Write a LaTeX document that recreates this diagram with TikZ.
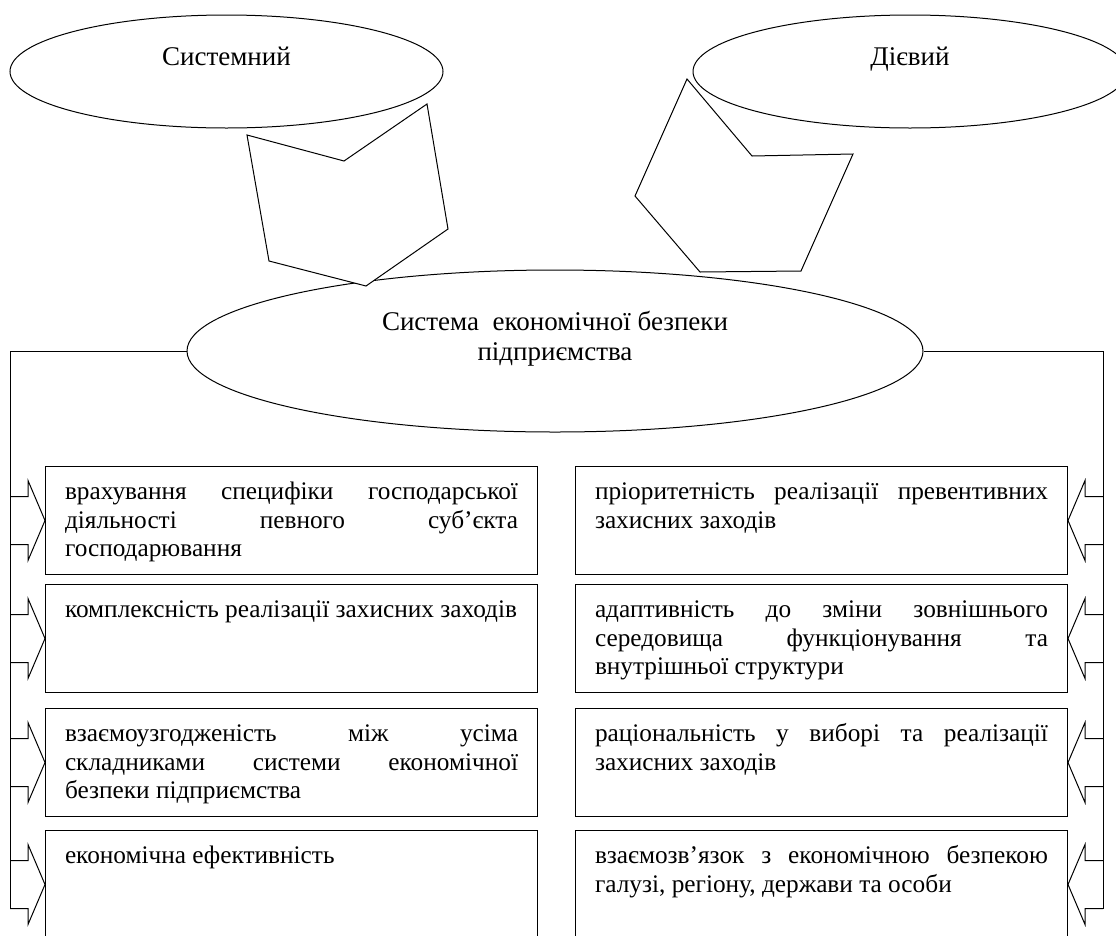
\documentclass[tikz,border=0pt]{standalone}
\usepackage{fontspec}
\setmainfont{Liberation Serif}
\usetikzlibrary{shapes.geometric}
\tolerance=10000
\hyphenpenalty=10000

\begin{document}
\begin{tikzpicture}[x=1pt,y=-1pt]

\tikzset{oval/.style = {shape=ellipse,draw,line width=1pt,align=center,font=\fontsize{27}{30}\selectfont}}
\tikzset{box/.style = {shape=rectangle,draw,line width=1pt,anchor=north west,text width=453pt,inner xsep=19.5pt,inner ysep=14pt,text height=19pt,text depth=61pt,align=justify,font=\fontsize{25.3}{28.5}\selectfont}}
\tikzset{link/.style = {line width=1pt}}
\tikzset{block/.style = {draw,fill=white,line width=1pt,line join=miter}}

\useasboundingbox (0,0) rectangle (1116,935);
\clip (0,0) rectangle (1116,935);

%ovals
\node[oval, minimum width=433pt, minimum height=113pt] (sys) at (226.5,71.5) {Системний\\\mbox{}};
\node[oval, minimum width=434pt, minimum height=113pt] (act) at (910,71.5) {Дієвий\\\mbox{}};
\node[oval, minimum width=736pt, minimum height=162pt] (core) at (555,351) {Система~~економічної безпеки\\підприємства\\\mbox{}};

%left boxes
\node[box] (l1) at (45,466) {врахування специфіки господарської\linebreak діяльності певного суб’єкта\linebreak господарювання};
\node[box] (l2) at (45,584) {комплексність реалізації захисних заходів};
\node[box] (l3) at (45,708) {взаємоузгодженість між усіма\linebreak складниками системи економічної\linebreak безпеки підприємства};
\node[box] (l4) at (45,830) {економічна ефективність};

%right boxes
\node[box] (r1) at (575,466) {пріоритетність реалізації превентивних\linebreak захисних заходів};
\node[box] (r2) at (575,584) {адаптивність до зміни зовнішнього\linebreak середовища функціонування та\linebreak внутрішньої структури};
\node[box] (r3) at (575,708) {раціональність у виборі та реалізації\linebreak захисних заходів};
\node[box] (r4) at (575,830) {взаємозв’язок з економічною безпекою\linebreak галузі, регіону, держави та особи};

%lines
\draw[link] (core.west) -| ([shift={(-35,24)}]l4.west);
\draw[link] (core.east) -| ([shift={(35,24)}]r4.east);
\foreach \b in {l1,l2,l3,l4}
  \draw[link] ([shift={(-35,-24)}]\b.west) -- ([shift={(-17,-24)}]\b.west) -- ([shift={(-17,-40)}]\b.west)
    -- (\b.west) -- ([shift={(-17,40)}]\b.west) -- ([shift={(-17,24)}]\b.west) -- ([shift={(-35,24)}]\b.west);
\foreach \b in {r1,r2,r3,r4}
  \draw[link] ([shift={(35,-24)}]\b.east) -- ([shift={(17,-24)}]\b.east) -- ([shift={(17,-40)}]\b.east)
    -- (\b.east) -- ([shift={(17,40)}]\b.east) -- ([shift={(17,24)}]\b.east) -- ([shift={(35,24)}]\b.east);

%block arrows
\draw[block] (247,135) -- (344,161) -- (427,104) -- (448,229) -- (366,286) -- (269,261) -- cycle;
\draw[block] (687,79) -- (752,156) -- (853,154) -- (801,271) -- (700,272) -- (635,196) -- cycle;

\end{tikzpicture}
\end{document}
